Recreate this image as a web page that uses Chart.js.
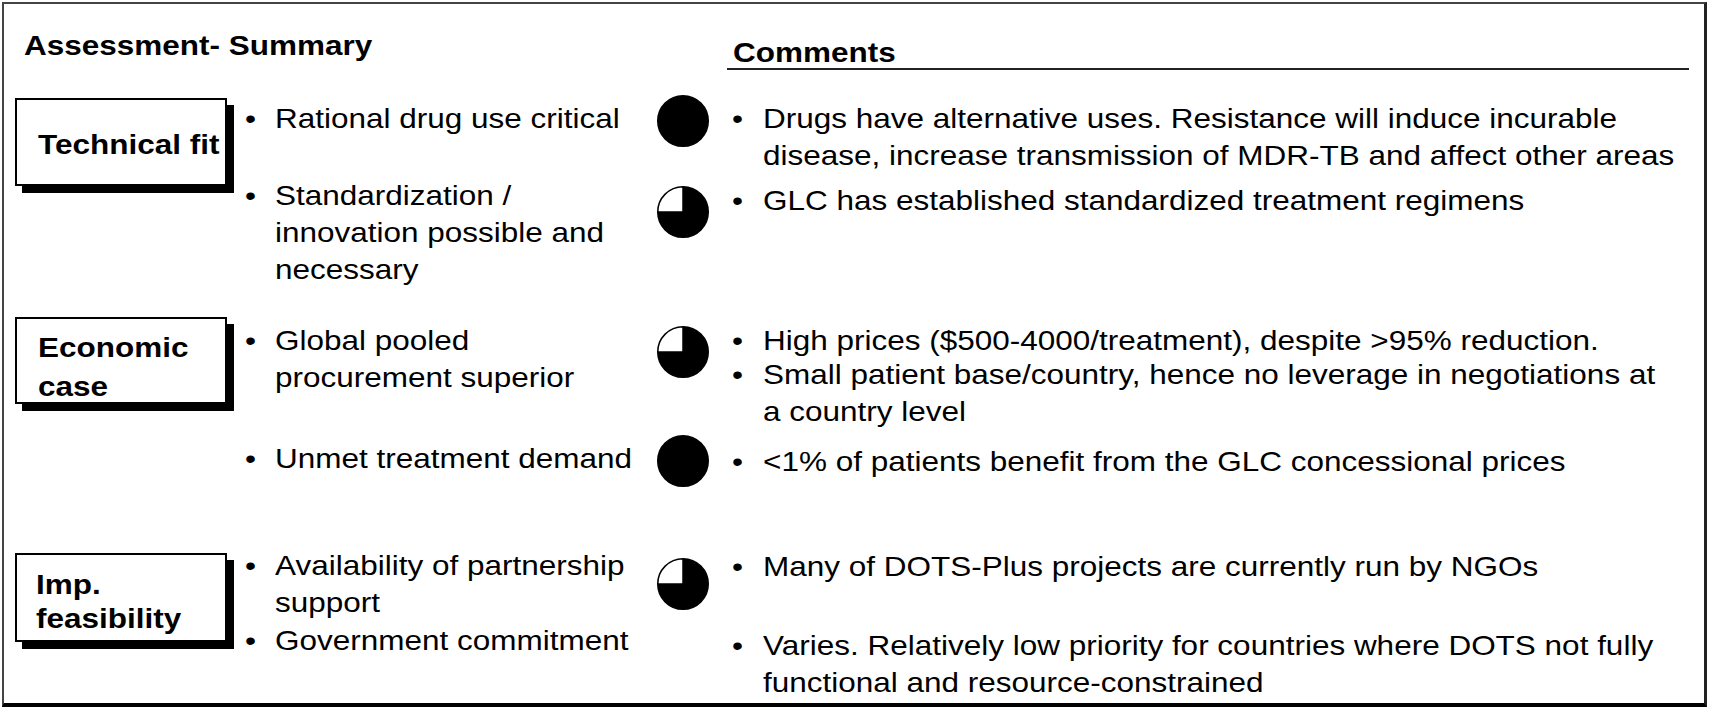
<!DOCTYPE html>
<html>
<head>
<meta charset="utf-8">
<script src="https://cdn.jsdelivr.net/npm/chart.js@4"></script>
<style>
  html, body { margin: 0; padding: 0; background: #fff; }
  #slide { position: relative; width: 1709px; height: 709px; overflow: hidden;
           font-family: "Liberation Sans", Arial, sans-serif; color: #000; }
  .frame { position: absolute; left: 2px; top: 2px; width: 1705px; height: 705px; box-sizing: border-box;
           border: 2px solid #444; border-right: 3px solid #222; border-bottom: 4px solid #000; }
  .t { position: absolute; white-space: nowrap; font-size: 27.5px; line-height: 37px;
       transform: scaleX(1.145); transform-origin: 0 0; }
  .b { font-weight: bold; }
  .box { position: absolute; left: 15px; width: 212px; box-sizing: border-box;
         border: 2px solid #000; background: #fff; box-shadow: 7px 7px 0 #000; }
  .rule { position: absolute; left: 727px; top: 68px; width: 962px; height: 2px; background: #222; }
  .ball { position: absolute; left: 656px; width: 54px; height: 54px; }
</style>
</head>
<body>
<div id="slide">
  <div class="frame"></div>

  <div class="t b" style="left:24px; top:27px;">Assessment- Summary</div>
  <div class="t b" style="left:733px; top:34px;">Comments</div>
  <div class="rule"></div>

  <!-- criteria boxes -->
  <div class="box" style="top:98px; height:88px;"></div>
  <div class="box" style="top:317px; height:87px;"></div>
  <div class="box" style="top:553px; height:89px;"></div>
  <div class="t b" style="left:38px; top:126px;">Technical fit</div>
  <div class="t b" style="left:38px; top:328px; line-height:39px;">Economic<br>case</div>
  <div class="t b" style="left:36px; top:568px; line-height:34px;">Imp.<br>feasibility</div>

  <!-- assessment bullets -->
  <div class="t" style="left:245px; top:100px;">•</div>
  <div class="t" style="left:275px; top:100px;">Rational drug use critical</div>
  <div class="t" style="left:245px; top:177px;">•</div>
  <div class="t" style="left:275px; top:177px;">Standardization /<br>innovation possible and<br>necessary</div>
  <div class="t" style="left:245px; top:322px;">•</div>
  <div class="t" style="left:275px; top:322px;">Global pooled<br>procurement superior</div>
  <div class="t" style="left:245px; top:440px;">•</div>
  <div class="t" style="left:275px; top:440px;">Unmet treatment demand</div>
  <div class="t" style="left:245px; top:547px;">•</div>
  <div class="t" style="left:275px; top:547px;">Availability of partnership<br>support</div>
  <div class="t" style="left:245px; top:622px;">•</div>
  <div class="t" style="left:275px; top:622px;">Government commitment</div>

  <!-- comment bullets -->
  <div class="t" style="left:732px; top:100px;">•</div>
  <div class="t" style="left:763px; top:100px;">Drugs have alternative uses. Resistance will induce incurable<br>disease, increase transmission of MDR-TB and affect other areas</div>
  <div class="t" style="left:732px; top:182px;">•</div>
  <div class="t" style="left:763px; top:182px;">GLC has established standardized treatment regimens</div>
  <div class="t" style="left:732px; top:322px;">•</div>
  <div class="t" style="left:763px; top:322px;">High prices ($500-4000/treatment), despite &gt;95% reduction.</div>
  <div class="t" style="left:732px; top:356px;">•</div>
  <div class="t" style="left:763px; top:356px;">Small patient base/country, hence no leverage in negotiations at<br>a country level</div>
  <div class="t" style="left:732px; top:443px;">•</div>
  <div class="t" style="left:763px; top:443px;">&lt;1% of patients benefit from the GLC concessional prices</div>
  <div class="t" style="left:732px; top:548px;">•</div>
  <div class="t" style="left:763px; top:548px;">Many of DOTS-Plus projects are currently run by NGOs</div>
  <div class="t" style="left:732px; top:627px;">•</div>
  <div class="t" style="left:763px; top:627px;">Varies. Relatively low priority for countries where DOTS not fully<br>functional and resource-constrained</div>

  <div id="balls"></div>
</div>

<script>
// Harvey ball ratings, in quarters filled (4 = full, 3 = three quarters)
const ratedItems = ["Rational drug use critical", "Standardization / innovation", "Global pooled procurement",
                    "Unmet treatment demand", "Availability of partnership support"];
const ratings = [4, 3, 3, 4, 3];
const maxRating = 4;

// top edge of each ball on the slide
const ballTops = [94, 185, 325, 434, 557];

const holder = document.getElementById("balls");

ratings.forEach((r, i) => {
    const wrap = document.createElement("div");
    wrap.className = "ball";
    wrap.style.top = ballTops[i] + "px";
    const canvas = document.createElement("canvas");
    wrap.appendChild(canvas);
    holder.appendChild(wrap);

    new Chart(canvas.getContext("2d"), {
        type: "pie",
        data: {
            labels: ["Filled", "Open"],
            datasets: [{
                label: ratedItems[i],
                data: [r, maxRating - r],
                backgroundColor: ["#000000", "#ffffff"],
                borderColor: "#000000",
                borderWidth: 1.5
            }]
        },
        options: {
            responsive: true,
            maintainAspectRatio: false,
            animation: false,
            events: [],
            layout: { padding: 1 },
            plugins: {
                legend: { display: false },
                tooltip: { enabled: false }
            }
        }
    });
});
</script>
</body>
</html>
